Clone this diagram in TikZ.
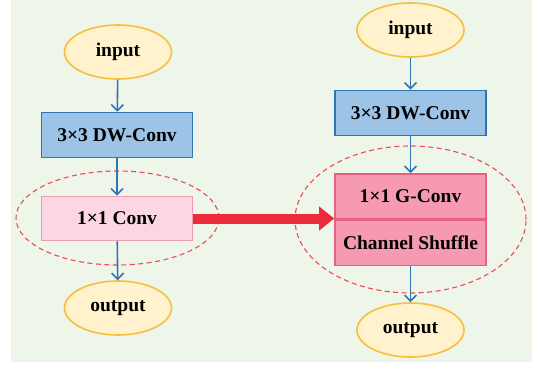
\documentclass[tikz,border=0pt]{standalone}
\usepackage{fontspec}
\setmainfont{Liberation Serif}
\usepackage{tikz}
\usetikzlibrary{positioning}
\usetikzlibrary{shapes.geometric,arrows.meta}
\definecolor{bgGreen}{HTML}{EEF5E9}
\definecolor{ioFill}{HTML}{FFF2CC}
\definecolor{ioLine}{HTML}{F7BE3F}
\definecolor{dwFill}{HTML}{9DC3E6}
\definecolor{dwLine}{HTML}{2E75B6}
\definecolor{convFill}{HTML}{FBD7E4}
\definecolor{convLine}{HTML}{F29BB0}
\definecolor{gconvFill}{HTML}{F59AB0}
\definecolor{gconvLine}{HTML}{E8607F}
\definecolor{redArrow}{HTML}{EC2A3C}
\tikzset{
    boxText/.style={font=\fontsize{19.5}{22}\selectfont\bfseries},
    ioNode/.style={boxText, ellipse, draw=ioLine, fill=ioFill, line width=1.6pt, inner sep=0pt, minimum width=107pt, minimum height=54pt},
    dwBox/.style={boxText, rectangle, draw=dwLine, fill=dwFill, line width=1.6pt, inner sep=0pt, minimum width=151pt, minimum height=45pt},
    convBox/.style={boxText, rectangle, draw=convLine, fill=convFill, line width=1.6pt, inner sep=0pt, minimum width=151pt, minimum height=44pt},
    gconvBox/.style={boxText, rectangle, draw=gconvLine, fill=gconvFill, line width=1.6pt, inner sep=0pt, minimum width=151pt, minimum height=45pt},
    groupRing/.style={ellipse, draw=redArrow!85, dash pattern=on 5pt off 3.5pt, line width=1.1pt, inner sep=0pt},
    flow/.style={draw=dwLine, line width=1.6pt, -{Straight Barb[length=6pt,width=12pt,line width=1.6pt]}},
}
\begin{document}
\begin{tikzpicture}[x=1pt, y=-1pt]
	\useasboundingbox (0,0) rectangle (534,366);
	\fill[bgGreen] (11,0) rectangle (532,362);
	% left: depthwise separable block
	\node[groupRing, minimum width=203pt, minimum height=94pt] (groupA) at (117.5,218) {};
	\node[ioNode] (inputA) at (118,52) {input};
	\node[dwBox] (dwA) at (117,135) {3×3 DW-Conv};
	\node[convBox] (convA) at (117,218.5) {1×1 Conv};
	\node[ioNode] (outputA) at (118,308) {output};
	\draw[flow] (inputA) -- (dwA);
	\draw[flow] (dwA) -- (convA);
	\draw[flow] (convA) -- (outputA);
	% right: shuffle block
	\node[groupRing, minimum width=231pt, minimum height=147pt] (groupB) at (410.5,219.5) {};
	\node[ioNode] (inputB) at (410.5,30) {input};
	\node[dwBox] (dwB) at (410.5,113) {3×3 DW-Conv};
	\node[gconvBox] (gconvB) at (410.5,196.5) {1×1 G-Conv};
	\node[gconvBox, below=0pt of gconvB] (shuffleB) {Channel Shuffle};
	\node[ioNode] (outputB) at (410.5,330) {output};
	\draw[flow] (inputB) -- (dwB);
	\draw[flow] (dwB) -- (gconvB);
	\draw[flow] (shuffleB) -- (outputB);
	\draw[redArrow, line width=10pt, -{Triangle[length=15pt,width=23pt]}] (convA.east) -- (convA.east -| shuffleB.north west);
\end{tikzpicture}
\end{document}
